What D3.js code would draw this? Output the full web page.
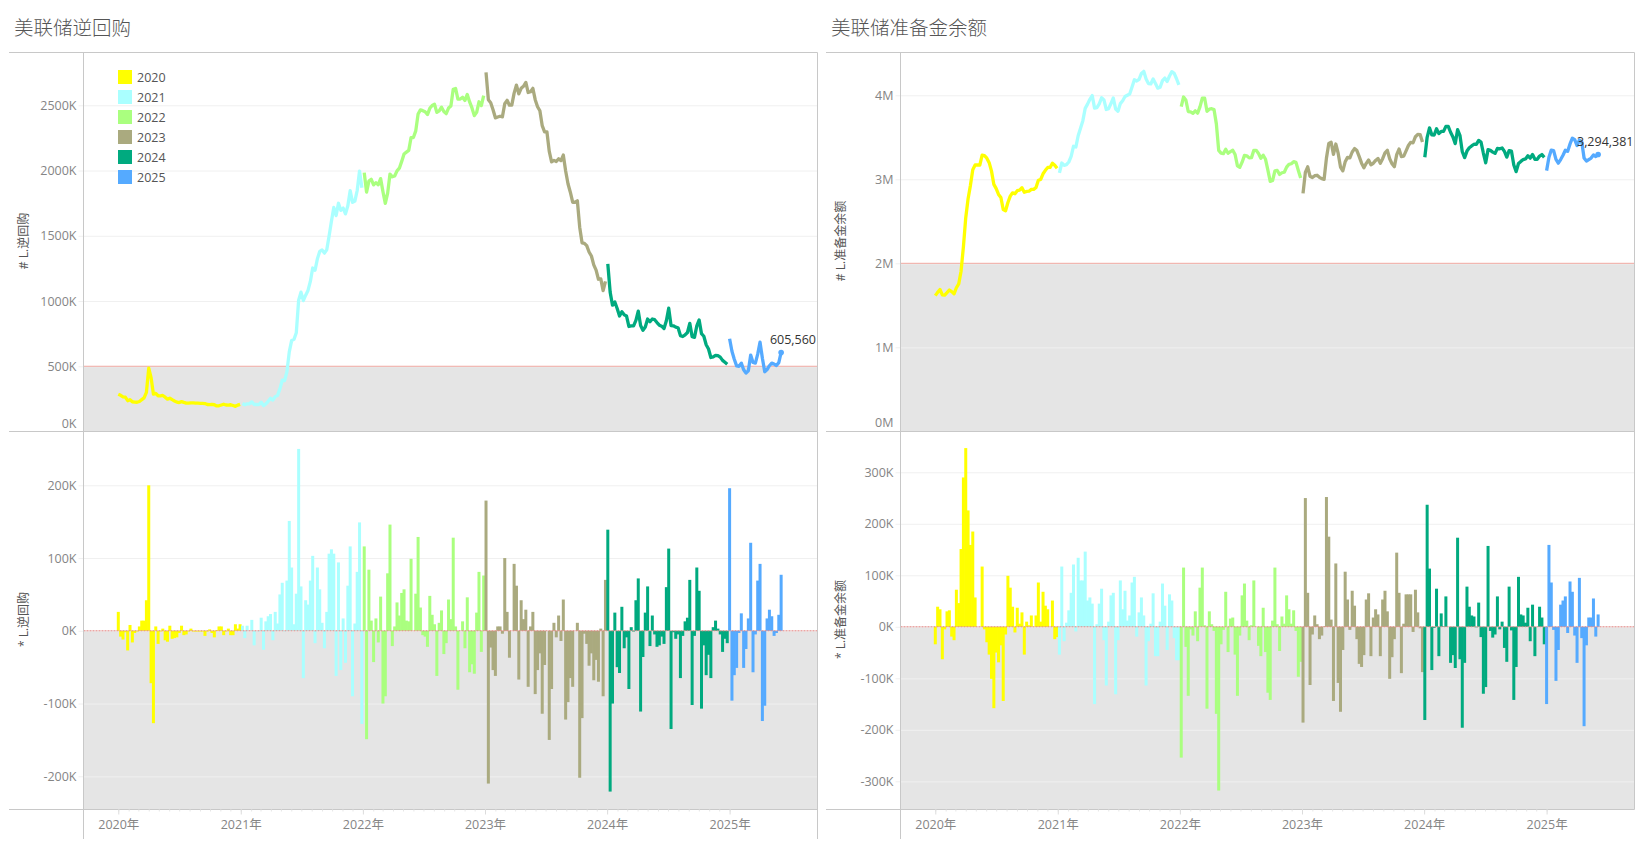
<!DOCTYPE html>
<html>
<head>
<meta charset="utf-8">
<title>美联储逆回购 / 准备金余额</title>
<script src="https://cdn.jsdelivr.net/npm/d3@7"></script>
<style>
  html, body { margin: 0; padding: 0; background: #fff; }
  svg { display: block; }
  text { font-family: "Open Sans", "Noto Sans CJK SC", sans-serif; }
  .cjk { font-family: "Noto Sans CJK SC", sans-serif; }
</style>
</head>
<body>
<div id="chart"></div>
<script>
// Legend categories and colors
var years = ["2020", "2021", "2022", "2023", "2024", "2025"];
var yearColors = ["#ffff00", "#aaffff", "#aaff7f", "#aaaa7f", "#00aa7f", "#55aaff"];
var yearLabels = ["2020年", "2021年", "2022年", "2023年", "2024年", "2025年"];

// Reverse repo weekly level, in K
var rrp2020 = [285,277,265,263,236,244,228,225,224,230,244,258,300,485,413,286,292,274,273,276,263,248,255,244,234,225,222,229,223,218,217,220,219,218,217,216,215,214,207,206,208,205,196,197,203,209,203,202,205,199,193,202,208];
var rrp2021 = [215,205,212,212,227,207,207,206,224,198,211,231,254,241,267,277,327,393,390,459,610,697,706,757,1007,1068,1003,1045,1081,1150,1253,1236,1323,1380,1391,1367,1393,1499,1611,1717,1655,1749,1695,1712,1668,1730,1846,1756,1766,1847,1996,1868];
var rrp2022 = [1984,1835,1919,1933,1890,1907,1891,1938,1838,1748,1827,1973,1952,1958,1997,2018,2070,2127,2141,2154,2253,2253,2304,2433,2465,2459,2451,2429,2477,2499,2508,2446,2457,2485,2453,2436,2479,2495,2623,2629,2548,2548,2561,2537,2583,2526,2480,2421,2446,2527,2498,2574];
var rrp2023 = [2753,2543,2520,2466,2404,2410,2416,2412,2512,2538,2501,2501,2593,2655,2588,2630,2646,2675,2598,2604,2630,2543,2489,2458,2344,2297,2297,2147,2067,2078,2069,2090,2076,2119,1997,1899,1834,1757,1757,1768,1566,1446,1442,1424,1376,1345,1277,1237,1167,1170,1080,1150];
var rrp2024 = [1285,1068,968,993,943,885,918,894,885,805,810,809,851,923,812,776,801,862,841,862,857,835,815,807,789,849,945,812,810,800,795,735,728,741,759,829,727,722,809,855,750,730,665,632,567,572,584,582,570,545,530,515];
var rrp2025 = [711,615,554,503,500,524,473,448,465,586,529,524,593,685,561,458,475,504,524,517,506,528,605.56];

// Reverse repo weekly change, in K
var rrpChg2020 = [26,-8,-12,-2,-27,8,-16,-3,-1,6,14,14,42,200,-72,-127,6,-18,-1,3,-13,-15,7,-11,-10,-9,-3,7,-6,-5,-1,3,-1,-1,-1,-1,-1,-7,-1,2,-3,-9,1,6,6,-6,-1,3,-6,-6,9,3,9];
var rrpChg2021 = [7,-10,7,0,15,-20,0,-1,18,-26,13,20,23,-13,26,10,50,66,-1,69,151,87,9,51,250,61,-65,42,36,69,103,-17,87,57,11,-24,26,106,112,106,-62,94,-54,17,-44,62,116,-90,10,81,149,-128];
var rrpChg2022 = [116,-149,84,14,-43,17,-16,47,-100,-90,79,146,-21,6,39,21,52,57,14,13,99,0,51,129,32,-6,-8,-22,48,22,9,-62,11,28,-32,-17,43,16,128,6,-81,0,13,-24,46,-57,-46,-59,25,81,-29,76];
var rrpChg2023 = [179,-210,-23,-54,-62,6,6,-4,100,26,-37,0,92,62,-67,42,16,29,-77,6,26,-87,-54,-31,-114,-47,0,-150,-80,11,-9,21,-14,43,-122,-98,-65,-77,0,11,-202,-120,-4,-18,-48,-31,-68,-40,-70,3,-90,70];
var rrpChg2024 = [139,-221,-100,25,-50,-58,33,-24,-9,-80,5,-1,42,72,-111,-36,25,61,-21,21,-5,-22,-20,-8,-18,60,113,-135,-2,-11,-5,-65,-7,13,18,70,-102,-7,87,55,-107,-20,-61,-33,-65,5,14,3,-5,-29,-11,-17];
var rrpChg2025 = [196,-96,-61,-51,-3,24,-51,-25,17,121,-57,-5,69,92,-124,-103,17,29,20,-7,-3,22,77];

// Reserve balances weekly level, in K
var res2020 = [1615,1654,1688,1625,1620,1650,1682,1663,1637,1709,1755,1906,2196,2543,2769,2928,3113,3170,3170,3170,3287,3282,3252,3198,3097,2939,2889,2820,2784,2640,2625,2724,2800,2839,2828,2865,2871,2899,2845,2855,2858,2880,2880,2902,2988,2998,3066,3107,3141,3141,3192,3168,3131];
var res2021 = [3077,3194,3166,3174,3206,3272,3393,3384,3518,3608,3698,3844,3895,3952,3997,3847,3852,3897,3971,3945,3831,3841,3902,3968,3837,3811,3901,3935,3985,4000,4015,4100,4185,4170,4190,4260,4285,4195,4140,4135,4195,4140,4085,4095,4175,4205,4165,4230,4282,4262,4197,4125];
var res2022 = [3865,3980,3941,3807,3802,3785,3815,3787,3863,3966,3965,3810,3835,3840,3830,3660,3345,3312,3306,3357,3310,3330,3345,3295,3160,3143,3204,3285,3280,3255,3258,3345,3345,3308,3250,3287,3238,3110,2975,2985,3100,3105,3058,3078,3084,3145,3179,3185,3210,3202,3105,3015];
var res2023 = [2833,3083,3149,3036,3021,3043,3048,3024,3007,3000,3252,3427,3441,3297,3420,3311,3146,3101,3208,3261,3255,3325,3366,3342,3270,3192,3137,3190,3230,3173,3191,3225,3249,3192,3245,3315,3345,3244,3185,3150,3294,3360,3270,3276,3339,3402,3440,3435,3507,3535,3532,3444];
var res2024 = [3263,3500,3613,3529,3527,3601,3544,3570,3571,3630,3630,3560,3505,3425,3590,3524,3328,3258,3336,3375,3397,3417,3416,3463,3443,3313,3196,3353,3345,3324,3309,3368,3363,3373,3332,3264,3342,3335,3170,3092,3189,3213,3235,3243,3280,3252,3295,3238,3238,3277,3295,3261];
var res2025 = [3103,3262,3348,3342,3237,3192,3235,3286,3345,3333,3421,3489,3472,3402,3468,3446,3253,3217,3235,3253,3290,3271,3294.381];

// Reserve balances weekly change, in K
var resChg2020 = [-34,39,34,-63,-5,30,32,-19,-26,72,46,151,290,347,226,159,185,57,0,0,117,-5,-30,-54,-101,-158,-50,-69,-36,-144,-15,99,76,39,-11,37,6,28,-54,10,3,22,0,22,86,10,68,41,34,0,51,-24,-20];
var resChg2021 = [-54,117,-28,8,32,66,121,-9,134,90,90,146,51,57,45,-150,5,45,74,-26,-114,10,61,66,-131,-26,90,34,70,12,22,86,97,-19,28,57,22,-114,-28,6,65,-57,-57,10,84,41,-45,63,51,-22,-65,-65];
var resChg2022 = [-254,115,-39,-134,-5,-17,30,-28,76,115,3,-159,30,5,-8,-169,-318,-34,-6,68,-49,16,18,-54,-134,-17,61,84,12,-26,3,90,0,-37,-57,37,-49,-128,-142,12,115,5,-47,20,6,61,34,6,32,-8,-97,-68];
var resChg2023 = [-186,250,66,-113,-15,22,5,-24,-17,1,252,175,14,-144,123,-109,-165,-45,107,53,-6,70,41,-24,-72,-78,-55,53,65,-57,18,34,24,-57,53,70,30,-101,-59,-24,144,66,-90,6,63,63,63,-10,72,28,-3,-88];
var resChg2024 = [-181,237,113,-84,-2,74,-57,26,1,59,0,-70,-55,-80,173,-63,-196,-70,78,39,22,20,-1,47,-20,-130,-117,157,-8,-21,-15,59,-5,10,-41,-68,78,-7,-142,-78,97,24,22,8,37,-28,43,-57,0,39,18,-34];
var resChg2025 = [-150,159,86,-6,-105,-45,43,51,59,-12,88,68,-17,-70,95,-22,-193,-36,18,18,55,-19,24];

// Axis ticks and thresholds
var rrpLevelTicks = [0, 500, 1000, 1500, 2000, 2500];
var rrpChgTicks = [-200, -100, 0, 100, 200];
var resLevelTicks = [0, 1000, 2000, 3000, 4000];
var resChgTicks = [-300, -200, -100, 0, 100, 200, 300];

var svg = d3.select("#chart").append("svg").attr("width", 1640).attr("height", 843);

// Every year starts at the first Wednesday of the weekly series
var firstWeek = new Date(2020, 0, 1);
var paneTop = 52.5, paneMid = 431.5, paneBottom = 809.5, pageEnd = 839;

function weekDate(i) {
  return d3.timeDay.offset(firstWeek, i * 7);
}

// Join the per-year arrays into rows that remember their week and year
function toRows(arrays) {
  var week = 0;
  return arrays.map((values, yearIndex) => {
    var rows = values.map(value => ({ date: weekDate(week++), value: value, year: yearIndex }));
    return rows;
  });
}

function drawPanel(cfg) {
  var g = svg.append("g").attr("transform", `translate(${cfg.offset},0)`);
  var left = 83.5, right = 817.5;

  var x = d3.scaleTime()
    .domain([new Date(2020, 0, 1), new Date(2025, 0, 1)])
    .range([118.3, 729.6]);

  var yTop = d3.scaleLinear().domain(cfg.topDomain).range(cfg.topRange);
  var yBottom = d3.scaleLinear().domain(cfg.bottomDomain).range(cfg.bottomRange);

  // Title
  g.append("text")
    .attr("class", "cjk")
    .attr("x", cfg.titleX)
    .attr("y", 35)
    .attr("font-size", 19.5)
    .attr("font-weight", 300)
    .attr("fill", "#555")
    .text(cfg.title);

  // Grey bands under the threshold of each pane
  g.append("rect")
    .attr("x", left).attr("width", right - left)
    .attr("y", yTop(cfg.threshold)).attr("height", paneMid - yTop(cfg.threshold))
    .attr("fill", "#e5e5e5");
  g.append("rect")
    .attr("x", left).attr("width", right - left)
    .attr("y", yBottom(0)).attr("height", paneBottom - yBottom(0))
    .attr("fill", "#e5e5e5");

  // Y axes with their gridlines
  var topAxis = g.append("g")
    .attr("transform", `translate(${left},0)`)
    .call(d3.axisLeft(yTop).tickValues(cfg.topTicks).tickSize(0).tickPadding(7).tickFormat(cfg.topFormat));
  var bottomAxis = g.append("g")
    .attr("transform", `translate(${left},0)`)
    .call(d3.axisLeft(yBottom).tickValues(cfg.bottomTicks).tickSize(0).tickPadding(7).tickFormat(d => d + "K"));

  [topAxis, bottomAxis].forEach(axis => {
    axis.select(".domain").remove();
    axis.selectAll("text").attr("font-size", 12.5).attr("font-family", "'Open Sans', sans-serif").attr("fill", "#858585");
    axis.selectAll(".tick line")
      .attr("x1", -5).attr("x2", right - left)
      .attr("stroke", "#f0f0f0");
  });

  // The 0 label of the upper pane sits just above the pane border
  topAxis.selectAll(".tick").filter(d => d === 0).select("text").attr("dy", "-0.36em");
  topAxis.selectAll(".tick").filter(d => d === 0).select("line").remove();

  // Threshold and zero lines
  g.append("line")
    .attr("x1", left).attr("x2", right)
    .attr("y1", yTop(cfg.threshold)).attr("y2", yTop(cfg.threshold))
    .attr("stroke", "#f2a9a2");

  // Bars for the weekly change, one year after the other
  cfg.bars.forEach(rows => {
    g.append("g").selectAll("rect")
      .data(rows)
      .join("rect")
      .attr("x", d => x(d.date) - 1.5)
      .attr("width", 3)
      .attr("y", d => Math.min(yBottom(d.value), yBottom(0)))
      .attr("height", d => Math.abs(yBottom(d.value) - yBottom(0)))
      .attr("fill", yearColors[rows[0].year]);
  });

  g.append("line")
    .attr("x1", left).attr("x2", right)
    .attr("y1", yBottom(0)).attr("y2", yBottom(0))
    .attr("stroke", "#e58380")
    .attr("stroke-dasharray", "2 1");

  // Lines for the level, broken at every new year
  var line = d3.line().x(d => x(d.date)).y(d => yTop(d.value));
  cfg.lines.forEach(rows => {
    g.append("path")
      .datum(rows)
      .attr("d", line)
      .attr("fill", "none")
      .attr("stroke", yearColors[rows[0].year])
      .attr("stroke-width", 3.3)
      .attr("stroke-linejoin", "round");
  });

  // Mark and label on the latest value
  var lastRows = cfg.lines[cfg.lines.length - 1];
  var last = lastRows[lastRows.length - 1];
  g.append("circle")
    .attr("cx", x(last.date)).attr("cy", yTop(last.value)).attr("r", 2.8)
    .attr("fill", yearColors[last.year]);
  g.append("text")
    .attr("x", cfg.labelX).attr("y", cfg.labelY)
    .attr("text-anchor", "end")
    .attr("font-size", 12.5)
    .attr("fill", "#333")
    .text(d3.format(",")(Math.round(last.value * 1000)));

  // Pane frame
  var frame = "#c8c8c8";
  [paneTop, paneMid, paneBottom].forEach(y => {
    g.append("line").attr("x1", 9).attr("x2", right).attr("y1", y).attr("y2", y).attr("stroke", frame);
  });
  g.append("line").attr("x1", left).attr("x2", left).attr("y1", paneTop).attr("y2", pageEnd).attr("stroke", frame);
  g.append("line").attr("x1", right).attr("x2", right).attr("y1", paneTop).attr("y2", cfg.frameEnd).attr("stroke", frame);

  // Axis titles
  [[241, "# L."], [619.5, "* L."]].forEach(item => {
    g.append("text")
      .attr("transform", `translate(${cfg.axisTitleX},${item[0]}) rotate(-90)`)
      .attr("text-anchor", "middle")
      .attr("font-size", 12)
      .attr("fill", "#555")
      .text(item[1] + cfg.axisName);
  });

  // X axis: months as faint ticks, years with a label
  var months = g.append("g")
    .attr("transform", `translate(0,${paneBottom})`)
    .call(d3.axisBottom(x).ticks(d3.timeMonth.every(1)).tickSize(2).tickFormat(""));
  months.select(".domain").remove();
  months.selectAll("line").attr("stroke", "#e6e6e6");
  months.selectAll(".tick").filter(d => d > new Date(2025, 5, 30)).remove();

  var yearAxis = g.append("g")
    .attr("transform", `translate(0,${paneBottom})`)
    .call(d3.axisBottom(x)
      .tickValues(years.map(y => new Date(+y, 0, 1)))
      .tickSize(5).tickPadding(6)
      .tickFormat(d => yearLabels[d.getFullYear() - 2020]));
  yearAxis.select(".domain").remove();
  yearAxis.selectAll("line").attr("stroke", "#dcdcdc");
  yearAxis.selectAll("text")
    .attr("font-size", 12.5)
    .attr("font-family", "'Open Sans', 'Noto Sans CJK SC', sans-serif")
    .attr("fill", "#858585");
}

var rrpLevelRows = toRows([rrp2020, rrp2021, rrp2022, rrp2023, rrp2024, rrp2025]);
var rrpChgRows = toRows([rrpChg2020, rrpChg2021, rrpChg2022, rrpChg2023, rrpChg2024, rrpChg2025]);
var resLevelRows = toRows([res2020, res2021, res2022, res2023, res2024, res2025]);
var resChgRows = toRows([resChg2020, resChg2021, resChg2022, resChg2023, resChg2024, resChg2025]);

drawPanel({
  offset: 0,
  title: "美联储逆回购",
  titleX: 14,
  axisName: "逆回购",
  axisTitleX: 28,
  threshold: 500,
  topDomain: [0, 2500], topRange: [431.5, 105.3],
  bottomDomain: [-200, 200], bottomRange: [776.3, 485.3],
  topTicks: rrpLevelTicks,
  bottomTicks: rrpChgTicks,
  topFormat: d => d + "K",
  lines: rrpLevelRows,
  bars: rrpChgRows,
  labelX: 816, labelY: 344,
  frameEnd: pageEnd
});

drawPanel({
  offset: 817,
  title: "美联储准备金余额",
  titleX: 14,
  axisName: "准备金余额",
  axisTitleX: 28,
  threshold: 2000,
  topDomain: [0, 4000], topRange: [431.3, 95.3],
  bottomDomain: [-300, 300], bottomRange: [781.3, 472.3],
  topTicks: resLevelTicks,
  bottomTicks: resChgTicks,
  topFormat: d => (d / 1000) + "M",
  lines: resLevelRows,
  bars: resChgRows,
  labelX: 816.5, labelY: 146,
  frameEnd: paneBottom
});

// Legend over the first panel
var legend = svg.append("g");
years.forEach((year, i) => {
  legend.append("rect")
    .attr("x", 118).attr("y", 70 + i * 20)
    .attr("width", 14).attr("height", 14)
    .attr("fill", yearColors[i]);
  legend.append("text")
    .attr("x", 137).attr("y", 82 + i * 20)
    .attr("font-size", 12.5)
    .attr("fill", "#555")
    .text(year);
});
</script>
</body>
</html>
